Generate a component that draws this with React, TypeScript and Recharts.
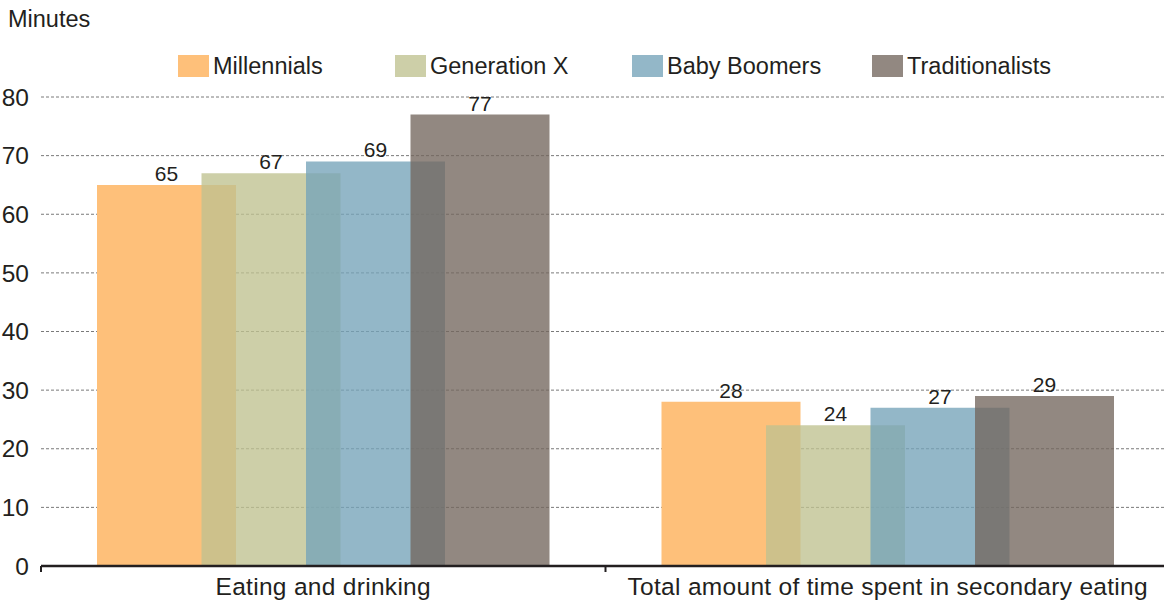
import { BarChart, Bar, XAxis, YAxis, CartesianGrid, Legend, LabelList } from 'recharts'

const categories = ['Eating and drinking', 'Total amount of time spent in secondary eating']
const millennials = [65, 28]
const generationX = [67, 24]
const babyBoomers = [69, 27]
const traditionalists = [77, 29]
const yTicks = [0, 10, 20, 30, 40, 50, 60, 70, 80]

const series = [
  { key: 'millennials', name: 'Millennials', color: '#fec07a', opacity: 1, swatch: '#fec07a' },
  { key: 'genx', name: 'Generation X', color: '#bfc290', opacity: 0.78, swatch: '#cdcfa8' },
  { key: 'boomers', name: 'Baby Boomers', color: '#75a3b9', opacity: 0.78, swatch: '#93b7c8' },
  { key: 'trad', name: 'Traditionalists', color: '#73665d', opacity: 0.78, swatch: '#928881' },
]

const data = categories.map((name, i) => ({
  name,
  millennials: millennials[i],
  genx: generationX[i],
  boomers: babyBoomers[i],
  trad: traditionalists[i],
}))

const FONT = '"Liberation Sans", Arial, Helvetica, sans-serif'
const legendWidths = [217, 237, 240, 200]

function LegendBox() {
  return (
    <div style={{ display: 'flex', height: 30, alignItems: 'center', paddingLeft: 178, fontFamily: FONT, fontSize: 23.5, color: '#231f20' }}>
      {series.map((s, i) => (
        <div key={s.key} style={{ display: 'flex', alignItems: 'center', width: legendWidths[i] }}>
          <div style={{ width: 31, height: 22, background: s.swatch, marginRight: 4 }} />
          <span>{s.name}</span>
        </div>
      ))}
    </div>
  )
}

function CategoryTick(props: any) {
  const { x, y, payload } = props
  const half = payload && payload.offset ? payload.offset : 282
  return (
    <g>
      <line x1={x - half} x2={x - half} y1={y - 12} y2={y - 6} stroke="#231f20" strokeWidth={2} />
      <text x={x} y={y} dy="0.71em" textAnchor="middle" fill="#231f20" fontSize={24.5} letterSpacing={0.3} fontFamily={FONT}>
        {payload.value}
      </text>
    </g>
  )
}

export default function App() {
  return (
    <div style={{ position: 'absolute', left: 0, top: 0, width: 1164, height: 600, overflow: 'hidden', background: '#fff' }}>
      <div style={{ position: 'absolute', left: 8, top: 8, fontFamily: FONT, fontSize: 23.5, lineHeight: 1, color: '#231f20' }}>
        Minutes
      </div>
      <BarChart
        width={1170}
        height={600}
        data={data}
        margin={{ top: 67, right: 0, bottom: 0, left: 0 }}
        barSize={139}
        barGap={-34.5}
      >
        <CartesianGrid vertical={false} stroke="#7a7a7a" strokeDasharray="3 2" />
        <XAxis
          dataKey="name"
          height={34}
          tickLine={false}
          tickMargin={6}
          axisLine={{ stroke: '#231f20', strokeWidth: 2.5 }}
          tick={<CategoryTick />}
          interval={0}
        />
        <YAxis
          width={41}
          domain={[0, 80]}
          ticks={yTicks}
          axisLine={false}
          tickLine={false}
          tickMargin={6}
          tick={{ fill: '#231f20', fontSize: 24.5, fontFamily: FONT }}
        />
        <Legend verticalAlign="top" content={<LegendBox />} wrapperStyle={{ top: 51, left: 0, width: 1164 }} />
        {series.map((s) => (
          <Bar key={s.key} dataKey={s.key} name={s.name} fill={s.color} fillOpacity={s.opacity} isAnimationActive={false}>
            <LabelList dataKey={s.key} position="top" offset={4} fill="#231f20" fontSize={21} fontFamily={FONT} />
          </Bar>
        ))}
      </BarChart>
    </div>
  )
}
